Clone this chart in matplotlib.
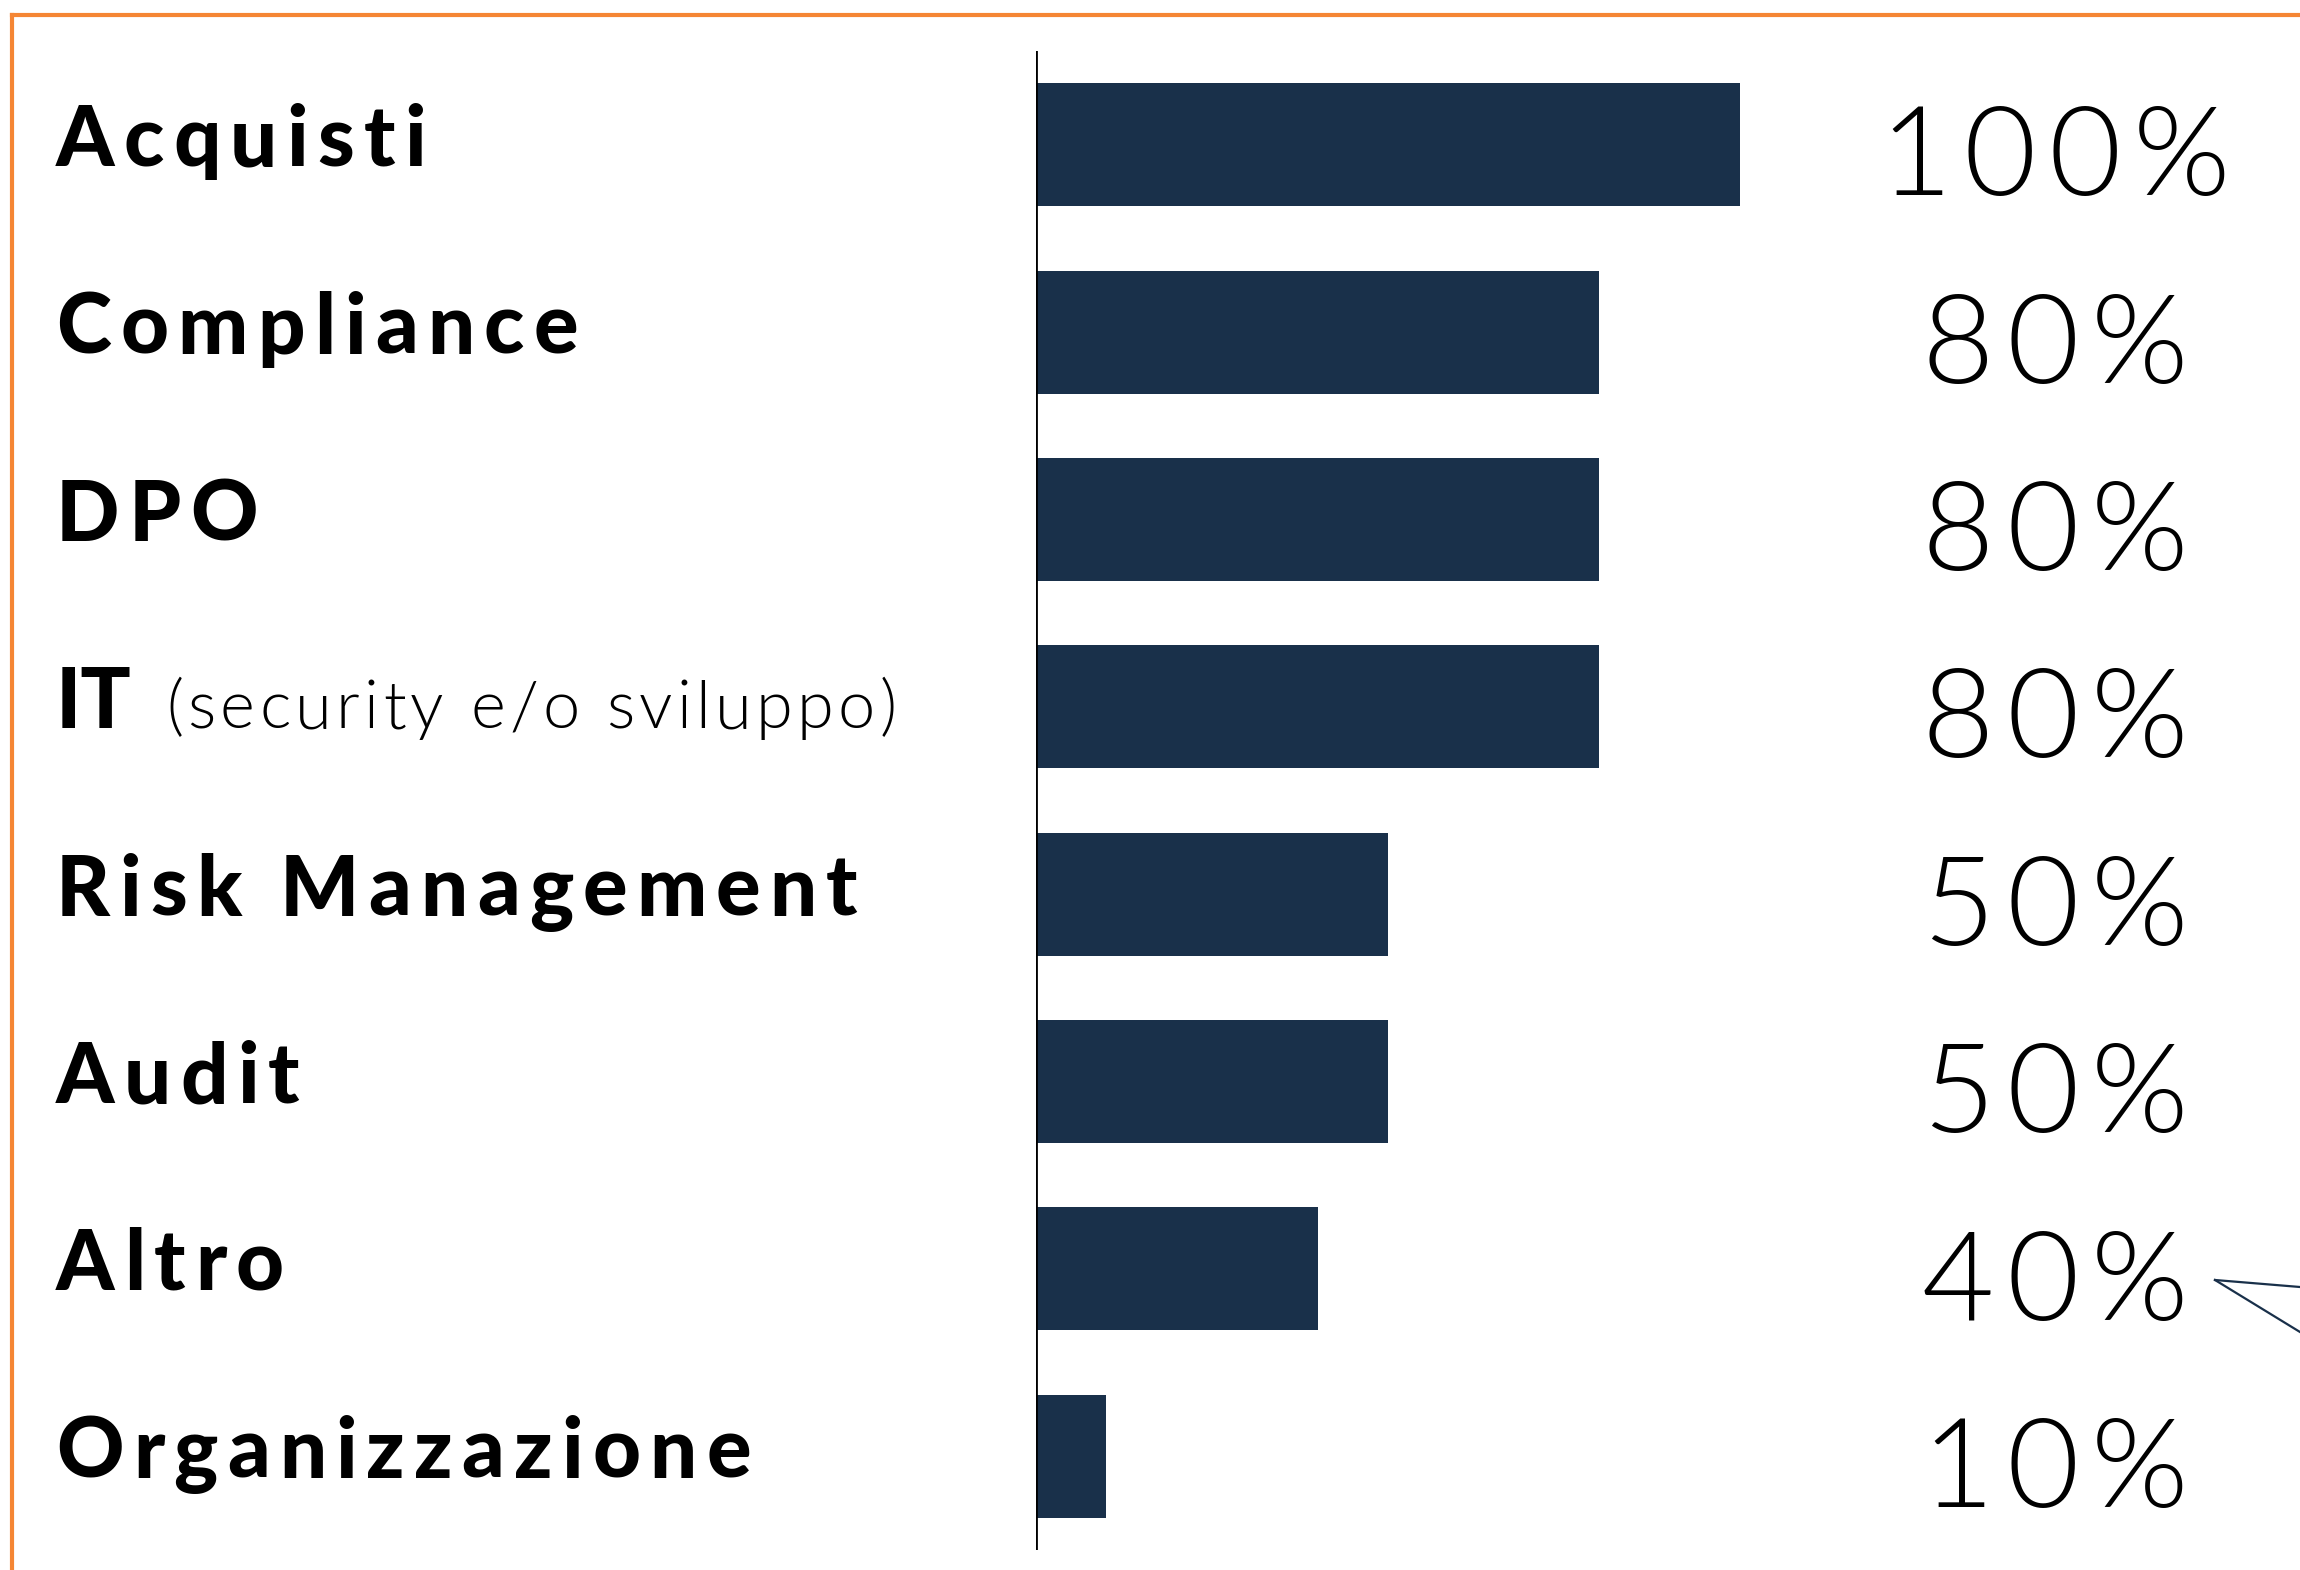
import matplotlib.pyplot as plt
import matplotlib.transforms as mtransforms
from matplotlib.lines import Line2D

# data
categories = ['Acquisti', 'Compliance', 'DPO', 'IT', 'Risk Management',
              'Audit', 'Altro', 'Organizzazione']
values = [100, 80, 80, 80, 50, 50, 40, 10]
labels = ['100%', '80%', '80%', '80%', '50%', '50%', '40%', '10%']
it_note = '(security e/o sviluppo)'

bar_color = '#19304a'
orange = '#f58634'

W, H = 2300, 1570
fig = plt.figure(figsize=(W / 100, H / 100), dpi=100)
renderer = fig.canvas.get_renderer()

# axes placed in pixels of the reference
ax_left, ax_right = 1036, 1740
ax_top, ax_bot = 51, 1550
ax = fig.add_axes([ax_left / W, 1 - ax_bot / H, (ax_right - ax_left) / W, (ax_bot - ax_top) / H])

ypos = list(range(len(categories)))
ax.barh(ypos, values, height=0.656, color=bar_color)
ax.set_xlim(0, 100)
ax.set_ylim(len(categories) - 0.5, -0.5)
ax.axis('off')
ax.axvline(0, color='black', lw=2)

trans = mtransforms.blended_transform_factory(fig.transFigure, ax.transData)


def text_w(s, **kw):
    t = fig.text(0, 0, s, **kw)
    w = t.get_window_extent(renderer).width
    t.remove()
    return w


# text with extra letter spacing (track in pixels)
def spaced(x_px, y, s, track, ha='left', **kw):
    xs = []
    for k, ch in enumerate(s):
        if ch == ' ':
            xs.append(None)
        else:
            xs.append(text_w(s[:k + 1], **kw) - text_w(ch, **kw) + k * track)
    total = text_w(s, **kw) + (len(s) - 1) * track
    x0 = x_px - total / 2 if ha == 'center' else x_px
    for ch, xx in zip(s, xs):
        if xx is not None:
            fig.text((x0 + xx) / W, y, ch, transform=trans, ha='left',
                     va='baseline', **kw)


bold = dict(fontsize=60, fontweight='black', family='Lato', color='black')
thin = dict(fontsize=48, fontweight=300, family='Lato', color='black')
pct = dict(fontsize=90, fontweight=300, family='Lato', color='black')

for i, cat in enumerate(categories):
    if cat == 'IT':
        fig.text(56 / W, i + 0.115, 'IT', transform=trans, va='baseline',
                 ha='left', **bold)
        spaced(166, i + 0.115, it_note, 4.3, **thin)
    else:
        spaced(56, i + 0.115, cat, 9.2, **bold)
    spaced(2055, i + 0.27, labels[i], 12, ha='center', **pct)

# callout pointer on the right
fig.add_artist(Line2D([2215 / W, 1.0], [1 - 1280 / H, 1 - 1287 / H],
                      transform=fig.transFigure, color=bar_color, lw=1.6))
fig.add_artist(Line2D([2215 / W, 1.0], [1 - 1280 / H, 1 - 1332 / H],
                      transform=fig.transFigure, color=bar_color, lw=1.6))

# orange frame (runs off right and bottom)
fig.add_artist(Line2D([12 / W, 1.0], [1 - 15 / H, 1 - 15 / H],
                      transform=fig.transFigure, color=orange, lw=3))
fig.add_artist(Line2D([12 / W, 12 / W], [1 - 15 / H, 0.0],
                      transform=fig.transFigure, color=orange, lw=3))

fig.savefig('out.png', dpi=100, facecolor='white')
